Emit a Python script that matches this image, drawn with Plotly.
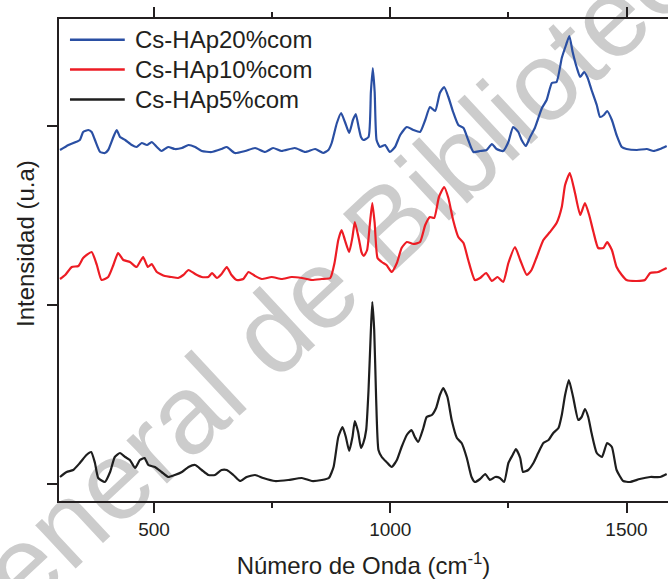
import plotly.graph_objects as go

# Raman shift (cm-1) and intensity (a.u., stacked) for each sample
wn_20 = [301, 319, 343, 350, 361, 368, 375, 386, 396, 403, 414, 421, 428, 439, 453, 463, 474, 485, 495, 506,
         516, 530, 544, 559, 573, 587, 601, 622, 643, 654, 671, 693, 714, 735, 752, 770, 798, 820, 841, 858,
         869, 876, 887, 896, 904, 913, 921, 927, 933, 938, 943, 954, 959, 963, 967, 971, 978, 989, 999, 1010,
         1021, 1035, 1049, 1063, 1074, 1084, 1095, 1105, 1114, 1123, 1133, 1144, 1155, 1165, 1176, 1190, 1204, 1215, 1225, 1239,
         1250, 1260, 1271, 1278, 1287, 1296, 1306, 1321, 1331, 1342, 1352, 1363, 1372, 1379, 1386, 1395, 1402, 1410, 1417, 1426,
         1437, 1444, 1452, 1459, 1469, 1479, 1490, 1500, 1522, 1543, 1557, 1571, 1585]
int_20 = [334, 339, 344, 352, 354, 352, 344, 332, 331, 334, 347, 354, 347, 344, 339, 337, 341, 339, 342, 337,
          333, 337, 335, 336, 339, 337, 333, 332, 335, 337, 331, 333, 336, 332, 336, 333, 336, 332, 335, 331,
          334, 341, 361, 371, 362, 351, 364, 370, 357, 347, 344, 347, 392, 416, 392, 344, 337, 339, 332, 337,
          349, 357, 354, 352, 364, 377, 373, 391, 397, 387, 372, 359, 356, 344, 332, 333, 334, 340, 335, 333,
          342, 357, 352, 344, 338, 347, 356, 376, 384, 401, 402, 426, 439, 448, 432, 416, 407, 412, 407, 394,
          379, 367, 369, 373, 364, 349, 337, 335, 334, 335, 333, 335, 338]

wn_10 = [301, 312, 326, 340, 350, 368, 379, 389, 403, 414, 424, 435, 449, 463, 470, 477, 487, 495, 506, 523,
         537, 551, 562, 573, 587, 601, 615, 623, 633, 643, 654, 664, 675, 689, 700, 714, 728, 749, 770, 791,
         813, 834, 855, 873, 882, 890, 897, 904, 913, 920, 925, 934, 939, 944, 951, 957, 962, 967, 973, 982,
         992, 1003, 1014, 1024, 1035, 1049, 1063, 1074, 1084, 1093, 1103, 1114, 1123, 1133, 1144, 1155, 1165, 1179, 1190, 1203,
         1215, 1227, 1239, 1250, 1264, 1275, 1289, 1299, 1310, 1324, 1338, 1352, 1363, 1370, 1380, 1391, 1402, 1412, 1421, 1430,
         1440, 1451, 1459, 1469, 1479, 1490, 1500, 1522, 1539, 1550, 1567, 1585]
int_10 = [205, 209, 217, 218, 226, 232, 219, 204, 207, 219, 231, 224, 222, 217, 222, 227, 217, 220, 212, 208,
          207, 206, 209, 214, 210, 207, 207, 211, 206, 210, 217, 209, 204, 205, 212, 208, 205, 207, 205, 207,
          206, 204, 205, 206, 221, 244, 254, 244, 232, 247, 262, 244, 232, 228, 234, 261, 281, 261, 226, 222,
          219, 212, 221, 236, 242, 240, 242, 259, 267, 266, 287, 297, 286, 264, 247, 241, 224, 204, 206, 211,
          203, 207, 202, 221, 237, 224, 209, 214, 227, 244, 252, 261, 277, 299, 311, 291, 269, 281, 269, 252,
          236, 236, 242, 234, 217, 209, 204, 203, 204, 211, 212, 216]

wn_5 = [301, 315, 329, 343, 357, 367, 375, 382, 396, 407, 417, 428, 439, 449, 460, 470, 480, 488, 502, 516,
        530, 544, 559, 573, 587, 601, 615, 629, 643, 654, 668, 682, 696, 714, 731, 756, 784, 813, 834, 855,
        870, 880, 890, 899, 906, 913, 920, 925, 932, 938, 943, 949, 954, 959, 962, 966, 970, 975, 982, 992,
        1003, 1014, 1024, 1035, 1045, 1052, 1059, 1070, 1077, 1088, 1097, 1105, 1112, 1121, 1130, 1141, 1151, 1162, 1172, 1179,
        1190, 1201, 1211, 1222, 1232, 1241, 1250, 1259, 1266, 1275, 1281, 1292, 1303, 1313, 1324, 1335, 1345, 1356, 1363, 1370,
        1378, 1387, 1398, 1405, 1412, 1419, 1426, 1437, 1448, 1459, 1469, 1479, 1493, 1507, 1528, 1550, 1571, 1585]
int_5 = [7, 12, 14, 21, 29, 32, 21, 6, 2, 12, 27, 31, 27, 24, 16, 24, 26, 19, 17, 12,
         7, 9, 12, 17, 19, 14, 9, 9, 14, 14, 9, 3, 7, 9, 6, 3, 4, 6, 3, 4,
         6, 17, 47, 57, 47, 33, 47, 63, 52, 36, 41, 54, 94, 154, 182, 154, 87, 34, 27, 22,
         17, 24, 37, 49, 54, 47, 42, 56, 67, 69, 76, 89, 96, 87, 64, 46, 41, 26, 7, 2,
         5, 10, 4, 7, 6, 2, 21, 29, 35, 26, 12, 14, 21, 31, 41, 44, 51, 56, 69, 89,
         104, 87, 64, 67, 75, 67, 51, 31, 27, 41, 37, 14, 3, 2, 5, 7, 7, 10]

names = ["Cs-HAp20%com", "Cs-HAp10%com", "Cs-HAp5%com"]
colors = ["#2a4fa3", "#ed1c24", "#1e1e1e"]
series = [(wn_20, int_20), (wn_10, int_10), (wn_5, int_5)]

FONT = "Liberation Sans, Arial, sans-serif"
TXT = "#231f20"

fig = go.Figure()
for (x, y), name, c in zip(series, names, colors):
    fig.add_trace(go.Scatter(x=x, y=y, mode="lines", name=name,
                             line=dict(color=c, width=2.2, shape="spline", smoothing=0.5),
                             showlegend=False))

# legend drawn as line samples + labels in the upper-left corner
leg_y = [0.957, 0.895, 0.833]
shapes = []
annotations = []
for name, c, yy in zip(names, colors, leg_y):
    shapes.append(dict(type="line", xref="paper", yref="paper",
                       x0=0.018, x1=0.108, y0=yy, y1=yy,
                       line=dict(color=c, width=2.5)))
    annotations.append(dict(text=name, xref="paper", yref="paper", x=0.121, y=yy,
                            xanchor="left", yanchor="middle", showarrow=False,
                            font=dict(family=FONT, size=24, color=TXT)))

# repository stamp behind the spectra
shapes.append(dict(type="line", xref="paper", yref="paper", layer="below",
                   x0=0.44, x1=0.48, y0=0.49, y1=0.53,
                   line=dict(color="rgba(0,0,0,0)", width=0),
                   label=dict(text="General de Bibliotecas", textangle=-43,
                              textposition="middle", xanchor="center", yanchor="middle",
                              font=dict(family=FONT, size=112, color="#cccccc"))))

annotations.append(dict(text="Intensidad (u.a)", xref="paper", yref="paper",
                        x=-0.056, y=0.535, textangle=-90, showarrow=False,
                        xanchor="center", yanchor="middle",
                        font=dict(family=FONT, size=24, color=TXT)))

fig.update_layout(
    width=668, height=579,
    margin=dict(l=59, r=0, t=19, b=78),
    paper_bgcolor="white", plot_bgcolor="white",
    shapes=shapes, annotations=annotations,
    font=dict(family=FONT, color=TXT),
    xaxis=dict(range=[298.9, 1587.8], showgrid=False, zeroline=False,
               showline=True, linecolor=TXT, linewidth=2, mirror="ticks",
               ticks="outside", ticklen=10, tickwidth=1.5, tickcolor=TXT,
               tick0=0, dtick=500, tickfont=dict(family=FONT, size=19, color=TXT),
               minor=dict(ticks="outside", ticklen=5, tickwidth=1.5, tickcolor=TXT,
                          dtick=250, tick0=0, showgrid=False),
               title=dict(text="Número de Onda (cm<sup>-1</sup>)",
                          font=dict(family=FONT, size=24, color=TXT), standoff=20)),
    yaxis=dict(range=[-17, 465], showgrid=False, zeroline=False,
               showline=True, linecolor=TXT, linewidth=2, mirror=False,
               ticks="outside", ticklen=10, tickwidth=1.5, tickcolor=TXT,
               tick0=0, dtick=179, showticklabels=False),
)

fig.write_html("out.html")
